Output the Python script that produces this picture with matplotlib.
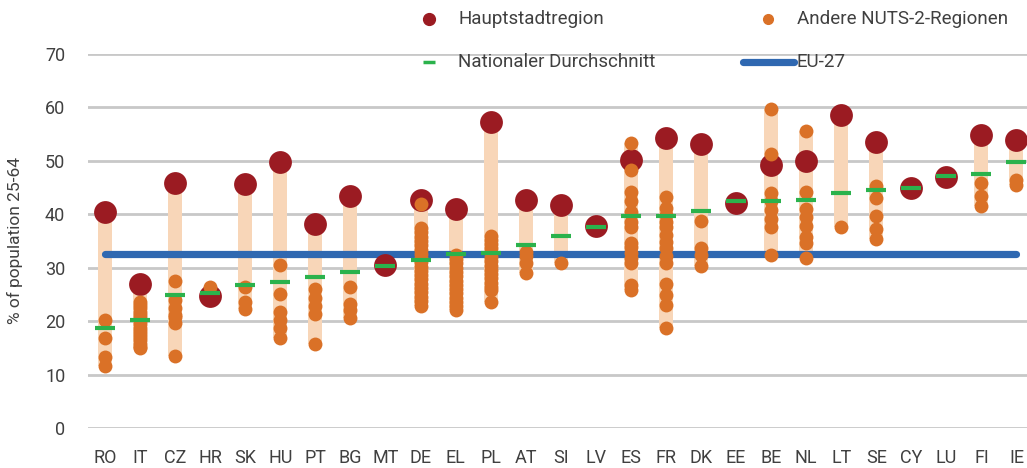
import matplotlib
matplotlib.use("Agg")
import matplotlib.pyplot as plt
from matplotlib.lines import Line2D
import numpy as np

plt.rcParams['font.family'] = ['Roboto', 'DejaVu Sans']

categories = ['RO', 'IT', 'CZ', 'HR', 'SK', 'HU', 'PT', 'BG', 'MT', 'DE', 'EL', 'PL', 'AT', 'SI',
              'LV', 'ES', 'FR', 'DK', 'EE', 'BE', 'NL', 'LT', 'SE', 'CY', 'LU', 'FI', 'IE']

capital = [40.5, 26.9, 45.8, 24.7, 45.6, 49.7, 38.1, 43.4, 30.5, 42.7, 41.0, 57.3, 42.7, 41.7,
           37.8, 50.2, 54.3, 53.2, 42.2, 49.2, 50.0, 58.5, 53.6, 45.0, 47.0, 54.8, 53.9]

national = [18.8, 20.2, 24.8, 25.3, 26.8, 27.3, 28.2, 29.2, 30.4, 31.4, 32.6, 32.8, 34.3, 36.0,
            37.7, 39.7, 39.7, 40.6, 42.4, 42.4, 42.6, 44.0, 44.5, 45.0, 47.2, 47.5, 49.8]

other_regions = [
    [20.2, 16.8, 13.3, 11.6],                                                     # RO
    [23.6, 23.0, 22.4, 21.8, 21.2, 20.6, 20.0, 19.4, 18.8, 18.2, 17.6, 17.0,
     16.4, 15.8, 15.2, 14.9],                                                     # IT
    [27.6, 24.0, 22.4, 21.2, 20.8, 19.6, 13.5],                                   # CZ
    [26.4],                                                                       # HR
    [26.4, 23.6, 22.3],                                                           # SK
    [30.5, 25.1, 21.8, 20.2, 18.8, 16.8],                                         # HU
    [26.1, 24.4, 22.8, 21.3, 15.7],                                               # PT
    [26.4, 23.3, 22.0, 20.5],                                                     # BG
    [],                                                                           # MT
    [41.9, 37.4, 36.6, 35.8, 35.0, 34.2, 33.4, 32.6, 31.8, 31.0, 30.2, 29.4,
     28.6, 27.8, 27.0, 26.2, 25.4, 24.6, 23.8, 22.8],                             # DE
    [32.4, 31.6, 30.8, 30.0, 29.2, 28.4, 27.6, 26.8, 26.0, 25.2, 24.4, 23.6,
     22.8, 22.1],                                                                 # EL
    [36.0, 35.2, 34.4, 33.6, 32.8, 32.0, 31.2, 30.4, 29.6, 28.8, 28.0, 27.2,
     26.4, 25.8, 23.5],                                                           # PL
    [33.0, 32.1, 30.8, 29.1],                                                     # AT
    [30.8],                                                                       # SI
    [],                                                                           # LV
    [53.4, 48.3, 44.2, 42.5, 40.5, 38.6, 37.7, 34.7, 33.8, 32.7, 31.8, 30.8,
     26.8, 25.8],                                                                 # ES
    [43.2, 41.1, 39.9, 38.6, 37.7, 36.1, 34.9, 33.6, 32.1, 30.8, 26.9, 24.9,
     23.0, 18.7],                                                                 # FR
    [38.8, 33.6, 32.3, 30.4],                                                     # DK
    [],                                                                           # EE
    [59.7, 51.3, 43.9, 42.4, 40.8, 39.2, 37.7, 32.3],                             # BE
    [55.6, 44.2, 41.0, 39.5, 37.8, 35.8, 34.6, 31.8],                             # NL
    [37.7],                                                                       # LT
    [45.3, 43.0, 39.7, 37.2, 35.3],                                               # SE
    [],                                                                           # CY
    [],                                                                           # LU
    [45.9, 43.4, 41.6],                                                           # FI
    [46.5, 45.5],                                                                 # IE
]

eu27 = 32.6

C_CAP = '#9b1b22'
C_OTH = '#da7127'
C_BAR = '#f8d6b8'
C_NAT = '#2bb24c'
C_EU = '#2f68b1'
C_GRID = '#c8c8c8'
C_TXT = '#404040'

fig = plt.figure(figsize=(10.27, 4.68), dpi=100)
ax = fig.add_axes([87.5 / 1027, 1 - 428 / 468, 1 - 87.5 / 1027, (428 - 54) / 468])

x = np.arange(len(categories))

# range bars
lo = [min([c] + o) for c, o in zip(capital, other_regions)]
hi = [max([c] + o) for c, o in zip(capital, other_regions)]
ax.bar(x, np.array(hi) - np.array(lo), bottom=lo, width=0.4, color=C_BAR, zorder=2)

# EU-27 line
ax.plot([x[0], x[-1]], [eu27, eu27], color=C_EU, lw=5.2, solid_capstyle='round', zorder=3)

# capital
ax.scatter(x, capital, s=270, color=C_CAP, zorder=4, linewidths=0)

# other regions
ox = [i for i, o in enumerate(other_regions) for _ in o]
oy = [v for o in other_regions for v in o]
ax.scatter(ox, oy, s=100, color=C_OTH, zorder=5, linewidths=0)

# national average
ax.plot(x, national, linestyle='none', marker='_', ms=15, mew=3, color=C_NAT, zorder=6)

ax.set_ylim(0, 70)
ax.set_xlim(-0.5, 26.3)
ax.set_yticks(range(0, 71, 10))
ax.set_xticks(x)
ax.set_xticklabels(categories)
ax.grid(axis='y', color=C_GRID, lw=2)
ax.set_axisbelow(True)
for s in ax.spines.values():
    s.set_visible(False)
ax.tick_params(axis='both', length=0, labelsize=13, colors=C_TXT)
ax.tick_params(axis='y', pad=16)
ax.tick_params(axis='x', pad=15)
ax.set_ylabel('% of population 25-64', fontsize=12.5, color=C_TXT, labelpad=16)

# legend (manual)
def fx(px):
    return px / 1027
def fy(py):
    return 1 - py / 468

LFS = 13.5
fig.add_artist(Line2D([fx(429)], [fy(19)], marker='o', ms=8.5, color=C_CAP, linestyle='none'))
fig.text(fx(458), fy(19), 'Hauptstadtregion', fontsize=LFS, color=C_TXT, va='center')
fig.add_artist(Line2D([fx(768)], [fy(19)], marker='o', ms=7, color=C_OTH, linestyle='none'))
fig.text(fx(797), fy(19), 'Andere NUTS-2-Regionen', fontsize=LFS, color=C_TXT, va='center')
fig.add_artist(Line2D([fx(429)], [fy(62)], marker='_', ms=8, mew=2.5, color=C_NAT, linestyle='none'))
fig.text(fx(458), fy(62), 'Nationaler Durchschnitt', fontsize=LFS, color=C_TXT, va='center')
fig.add_artist(Line2D([fx(743), fx(794)], [fy(62), fy(62)], lw=5.2, color=C_EU, solid_capstyle='round'))
fig.text(fx(797), fy(62), 'EU-27', fontsize=LFS, color=C_TXT, va='center')

fig.savefig('out.png', dpi=100)
